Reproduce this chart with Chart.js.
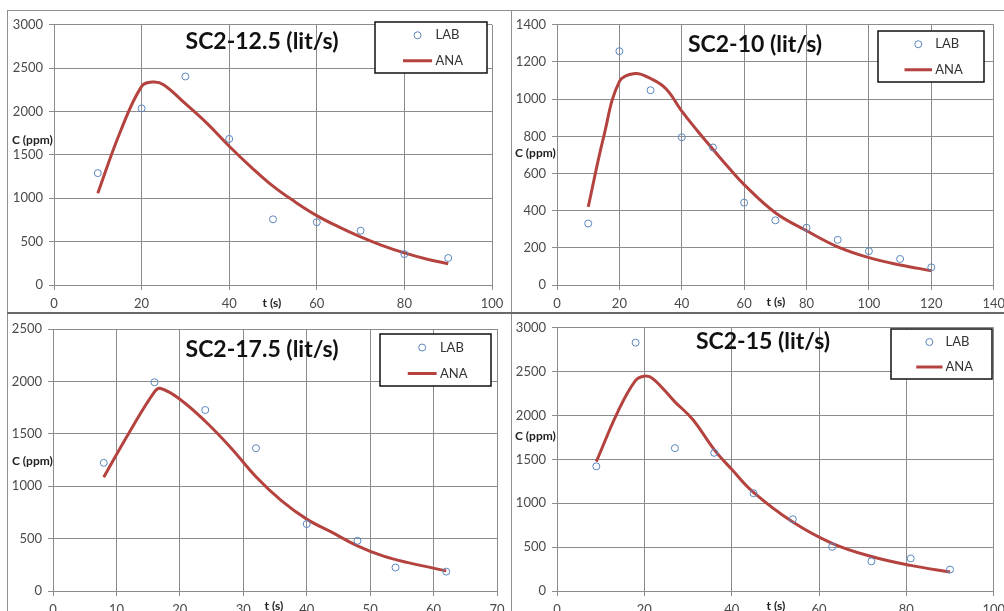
<!DOCTYPE html>
<html lang="en">
<head>
<meta charset="UTF-8">
<title>SC2 concentration curves</title>
<script src="https://cdn.jsdelivr.net/npm/chart.js@4.4.1/dist/chart.umd.min.js"></script>
<style>
  html, body { margin: 0; padding: 0; background: #fff; overflow: hidden; width: 1004px; height: 611px; }
  .panel { position: absolute; }
  .line { position: absolute; background: #8f8f8f; }
</style>
</head>
<body>
<div class="line" style="left:7px; top:10px; width:1000px; height:1px;"></div>
<div class="line" style="left:7px; top:10px; width:1px; height:610px;"></div>
<div class="line" style="left:511px; top:10px; width:1px; height:610px;"></div>
<div class="line" style="left:7px; top:312px; width:1000px; height:2px; background:#6a6a6a;"></div>

<div class="panel" style="left:8px; top:11px;"><canvas id="c1" width="503" height="301"></canvas></div>
<div class="panel" style="left:512px; top:11px;"><canvas id="c2" width="499" height="301"></canvas></div>
<div class="panel" style="left:8px; top:314px;"><canvas id="c3" width="503" height="299"></canvas></div>
<div class="panel" style="left:512px; top:314px;"><canvas id="c4" width="499" height="299"></canvas></div>
<script>
// SC2-12.5
var labT125 = [10, 20, 30, 40, 50, 60, 70, 80, 90];
var labC125 = [1290, 2036, 2404, 1684, 757, 724, 626, 356, 311];
var anaT125 = [10, 15, 20, 22.5, 25, 30, 35, 40, 45, 50, 55, 60, 65, 70, 75, 80, 85, 90];
var anaC125 = [1058, 1750, 2290, 2340, 2310, 2090, 1860, 1600, 1360, 1140, 960, 800, 670, 555, 455, 370, 300, 245];

// SC2-10
var labT10 = [10, 20, 30, 40, 50, 60, 70, 80, 90, 100, 110, 120];
var labC10 = [331, 1258, 1048, 795, 740, 443, 348, 308, 243, 182, 140, 95];
var anaT10 = [10, 15, 20, 25, 30, 35, 40, 45, 50, 55, 60, 70, 80, 90, 100, 110, 120];
var anaC10 = [420, 800, 1094, 1138, 1111, 1055, 935, 830, 730, 632, 540, 389, 292, 205, 147, 108, 77];

// SC2-17.5
var labT175 = [8, 16, 24, 32, 40, 48, 54, 62];
var labC175 = [1223, 1992, 1727, 1363, 639, 479, 224, 185];
var anaT175 = [8, 12, 16, 17, 20, 24, 28, 32, 36, 40, 44, 48, 52, 56, 62];
var anaC175 = [1086, 1510, 1900, 1932, 1830, 1620, 1370, 1090, 862, 686, 559, 431, 335, 271, 192];

// SC2-15
var labT15 = [9, 18, 27, 36, 45, 54, 63, 72, 81, 90];
var labC15 = [1421, 2831, 1628, 1575, 1114, 818, 503, 338, 371, 244];
var anaT15 = [9, 14, 18, 20, 22, 27, 31, 36, 40, 45, 54, 63, 72, 81, 90];
var anaC15 = [1474, 2050, 2400, 2449, 2419, 2156, 1960, 1612, 1387, 1125, 787, 544, 394, 292, 217];

var lineColor = '#b4433f';
var markColor = '#5b86bd';
var gridColor = '#8c8c8c';
var tickColor = '#4a4a4a';

function pts(xs, ys) {
  return xs.map(function (x, i) { return { x: x, y: ys[i] }; });
}

// draws the title, legend box and axis titles inside each panel
var panelDeco = {
  id: 'panelDeco',
  afterDraw: function (chart, args, o) {
    var ctx = chart.ctx;
    ctx.save();
    ctx.fillStyle = '#111';
    ctx.textAlign = 'center';
    ctx.textBaseline = 'middle';
    ctx.font = 'bold 23px Lato';
    ctx.fillText(o.title, o.titlePos[0], o.titlePos[1]);

    ctx.font = 'bold 12px Lato';
    ctx.fillStyle = '#222';
    ctx.textAlign = 'left';
    ctx.fillText('C (ppm)', o.yTitle[0], o.yTitle[1]);
    ctx.textAlign = 'center';
    ctx.fillText('t (s)', o.xTitle[0], o.xTitle[1]);

    var b = o.box;
    ctx.fillStyle = '#fff';
    ctx.fillRect(b[0], b[1], b[2], b[3]);
    ctx.strokeStyle = '#111';
    ctx.lineWidth = 1.5;
    ctx.strokeRect(b[0], b[1], b[2], b[3]);
    var y1 = b[1] + b[3] * 0.26, y2 = b[1] + b[3] * 0.76;
    ctx.beginPath();
    ctx.arc(b[0] + b[2] * 0.38, y1, 3.5, 0, Math.PI * 2);
    ctx.strokeStyle = markColor;
    ctx.lineWidth = 1;
    ctx.stroke();
    ctx.beginPath();
    ctx.moveTo(b[0] + b[2] * 0.25, y2);
    ctx.lineTo(b[0] + b[2] * 0.51, y2);
    ctx.strokeStyle = lineColor;
    ctx.lineWidth = 3;
    ctx.stroke();
    ctx.fillStyle = '#333';
    ctx.font = '13px Lato';
    ctx.textAlign = 'left';
    ctx.fillText('LAB', b[0] + b[2] * 0.54, y1);
    ctx.fillText('ANA', b[0] + b[2] * 0.54, y2);
    ctx.restore();
  }
};

function plain(v) { return String(v); }

function makeChart(id, d) {
  new Chart(document.getElementById(id), {
    type: 'scatter',
    data: {
      datasets: [
        {
          label: 'ANA',
          data: pts(d.anaT, d.anaC),
          showLine: true,
          borderColor: lineColor,
          borderWidth: 3,
          pointRadius: 0,
          tension: 0.4,
          order: 2
        },
        {
          label: 'LAB',
          data: pts(d.labT, d.labC),
          pointStyle: 'circle',
          pointRadius: 3.5,
          borderWidth: 1,
          borderColor: markColor,
          backgroundColor: 'rgba(0,0,0,0)',
          order: 1
        }
      ]
    },
    options: {
      responsive: false,
      animation: false,
      layout: { padding: { left: 0, top: d.pad[0], right: d.pad[1], bottom: 0 } },
      plugins: {
        legend: { display: false },
        tooltip: { enabled: false },
        panelDeco: d.deco
      },
      scales: {
        x: {
          type: 'linear',
          min: 0, max: d.xMax,
          afterFit: function (s) { s.height = d.xH; },
          ticks: { stepSize: d.xStep, color: tickColor, font: { family: 'Lato', size: 13 }, padding: 6, maxRotation: 0, callback: plain },
          grid: { color: gridColor, tickLength: 5, tickColor: gridColor },
          border: { color: gridColor }
        },
        y: {
          min: 0, max: d.yMax,
          afterFit: function (s) { s.width = d.yW; },
          ticks: { stepSize: d.yStep, color: tickColor, font: { family: 'Lato', size: 13 }, padding: 6, callback: plain },
          grid: { color: gridColor, tickLength: 5, tickColor: gridColor },
          border: { color: gridColor }
        }
      }
    },
    plugins: [panelDeco]
  });
}

makeChart('c1', {
  labT: labT125, labC: labC125, anaT: anaT125, anaC: anaC125,
  xMax: 100, xStep: 20, yMax: 3000, yStep: 500,
  pad: [8, 19], yW: 46, xH: 27,
  deco: { title: 'SC2-12.5 (lit/s)', titlePos: [254, 31], box: [367, 11, 112, 51], yTitle: [4, 129], xTitle: [264, 292] }
});
makeChart('c2', {
  labT: labT10, labC: labC10, anaT: anaT10, anaC: anaC10,
  xMax: 140, xStep: 20, yMax: 1400, yStep: 200,
  pad: [8, 15], yW: 45, xH: 27,
  deco: { title: 'SC2-10 (lit/s)', titlePos: [243, 34], box: [366, 20, 106, 51], yTitle: [3, 142], xTitle: [264, 291] }
});
makeChart('c3', {
  labT: labT175, labC: labC175, anaT: anaT175, anaC: anaC175,
  xMax: 70, xStep: 10, yMax: 2500, yStep: 500,
  pad: [15, 14], yW: 45, xH: 22,
  deco: { title: 'SC2-17.5 (lit/s)', titlePos: [254, 36], box: [372, 20, 111, 52], yTitle: [4, 147], xTitle: [266, 292] }
});
makeChart('c4', {
  labT: labT15, labC: labC15, anaT: anaT15, anaC: anaC15,
  xMax: 100, xStep: 20, yMax: 3000, yStep: 500,
  pad: [9, 15], yW: 45, xH: 22,
  deco: { title: 'SC2-15 (lit/s)', titlePos: [251, 28], box: [379, 15, 101, 50], yTitle: [3, 122], xTitle: [264, 292] }
});
</script>
</body>
</html>
